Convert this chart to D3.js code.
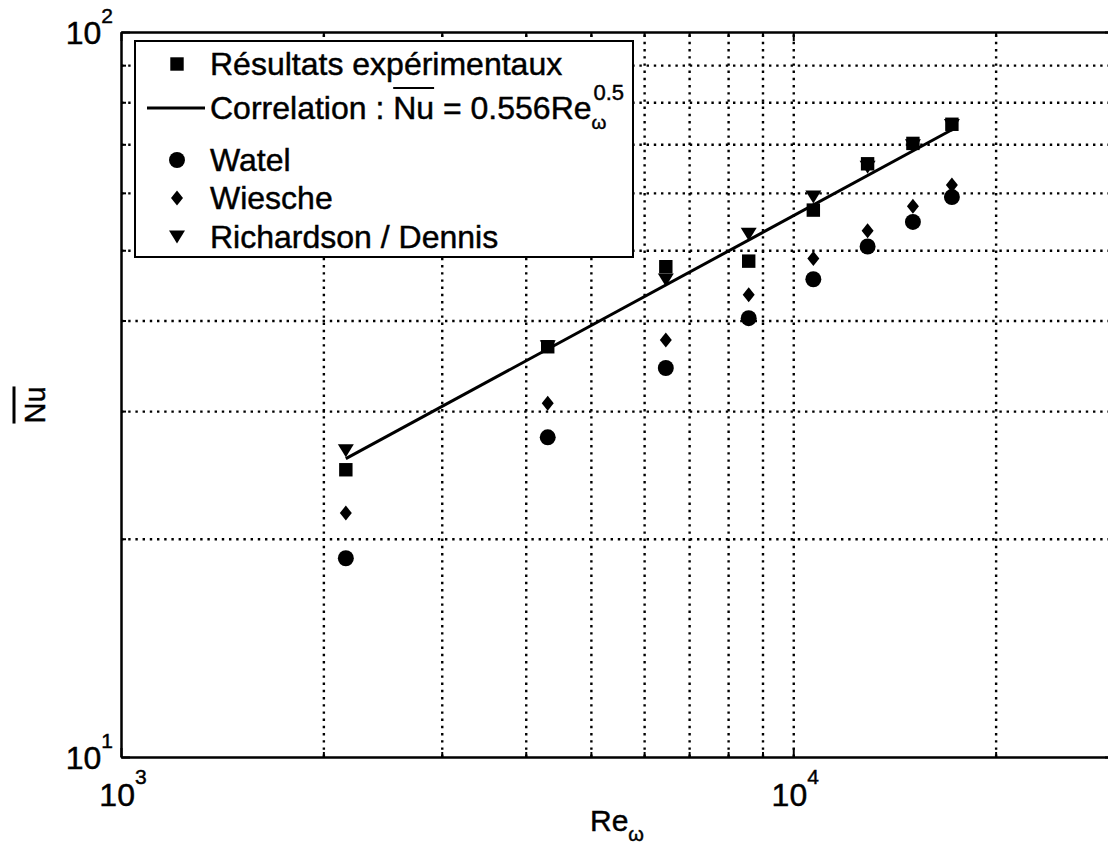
<!DOCTYPE html>
<html><head><meta charset="utf-8">
<script src="https://cdn.jsdelivr.net/npm/d3@7"></script>
<style>
body{margin:0;background:#fff}
svg{display:block}
text{font-family:"Liberation Sans",Arial,Helvetica,sans-serif;fill:#000;stroke:#000;stroke-width:0.45px}
</style>
</head><body>
<svg id="c" width="1108" height="845"></svg>
<script>
// ---- data ----
const reValues      = [2160, 4313, 6463, 8585, 10712, 12900, 15066, 17218];
const nuExperimental= [24.9, 36.8, 47.45, 48.3, 56.8, 65.8, 70.2, 74.6];
const nuWatel       = [18.8, 27.6, 34.4, 40.3, 45.6, 50.6, 54.7, 59.2];
const nuWiesche     = [21.7, 30.75, 37.6, 43.4, 48.7, 53.2, 57.5, 61.5];
const nuRichardson  = [26.45, 36.8, 45.5, 52.6, 59.2, 65.1, 69.7, 74.3];
const corrRe        = [2160, 17218];
const corrNu        = [25.8, 73.3];
const xMajorTicks   = [1000, 10000];
const xMajorExp     = ["3", "4"];
const xMinorTicks   = [2000,3000,4000,5000,6000,7000,8000,9000,20000];
const yMajorTicks   = [10, 100];
const yMajorExp     = ["1", "2"];
const yMinorTicks   = [20,30,40,50,60,70,80,90];
const legendLabels  = ["Résultats expérimentaux", "Correlation", "Watel", "Wiesche", "Richardson / Dennis"];

const svg = d3.select("#c");
const L = 121, R = 1114, T = 32, B = 757;
const x = d3.scaleLog().domain([1e3, 3e4]).range([L, R]);
const y = d3.scaleLog().domain([10, 100]).range([B, T]);

// ---- grid (dotted) ----
const gridX = svg.append("g").attr("transform", `translate(0,${B})`)
  .call(d3.axisBottom(x).tickValues(xMinorTicks.concat([10000])).tickSize(-(B - T)).tickFormat(""));
gridX.select(".domain").remove();
const gridY = svg.append("g").attr("transform", `translate(${L},0)`)
  .call(d3.axisLeft(y).tickValues(yMinorTicks).tickSize(-(R - L)).tickFormat(""));
gridY.select(".domain").remove();
svg.selectAll("g line").attr("stroke", "#000").attr("stroke-width", 2.4).attr("stroke-dasharray", "2.4 4.8");

// ---- axes frame & ticks ----
function styleAxis(g) {
  g.select(".domain").attr("stroke", "#000").attr("stroke-width", 2);
  g.selectAll(".tick line").attr("stroke", "#000").attr("stroke-width", 2);
  g.selectAll(".tick text").remove();
}
const mk = (axisFn, scale, vals, size, tr) => svg.append("g").attr("transform", tr)
  .call(axisFn(scale).tickValues(vals).tickSize(-size).tickSizeOuter(0).tickFormat(""))
  .call(styleAxis);
mk(d3.axisBottom, x, xMajorTicks, 9, `translate(0,${B})`);
mk(d3.axisBottom, x, xMinorTicks, 5, `translate(0,${B})`);
mk(d3.axisTop, x, xMajorTicks, 9, `translate(0,${T})`);
mk(d3.axisTop, x, xMinorTicks, 5, `translate(0,${T})`);
mk(d3.axisLeft, y, yMajorTicks, 9, `translate(${L},0)`);
mk(d3.axisLeft, y, yMinorTicks, 5, `translate(${L},0)`);
mk(d3.axisRight, y, yMajorTicks, 9, `translate(${R},0)`);

// ---- tick labels (10^n) ----
xMajorTicks.forEach((v, i) => {
  const t = svg.append("text").attr("x", x(v) + 2).attr("y", B + 49).attr("text-anchor", "middle");
  t.append("tspan").attr("font-size", 32).text("10");
  t.append("tspan").attr("font-size", 21).attr("dy", -22).text(xMajorExp[i]);
});
yMajorTicks.forEach((v, i) => {
  const t = svg.append("text").attr("x", L - 8).attr("y", y(v) + 12).attr("text-anchor", "end");
  t.append("tspan").attr("font-size", 32).text("10");
  t.append("tspan").attr("font-size", 21).attr("dy", -21).text(yMajorExp[i]);
});

// ---- axis titles ----
const xt = svg.append("text").attr("x", 590).attr("y", 831);
xt.append("tspan").attr("font-size", 30).text("Re");
xt.append("tspan").attr("font-size", 20).attr("dy", 10).text("ω");

const yt = svg.append("text").attr("transform", "translate(45,405) rotate(-90)")
  .attr("text-anchor", "middle").attr("font-size", 29).text("Nu");
const ytw = yt.node().getComputedTextLength();
svg.append("line").attr("x1", 14).attr("x2", 14)
  .attr("y1", 405 - ytw / 2).attr("y2", 405 + ytw / 2)
  .attr("stroke", "#000").attr("stroke-width", 3);

// ---- marker symbols ----
const sym = {
  square: d3.symbol().type(d3.symbolSquare).size(180),
  circle: d3.symbol().type(d3.symbolCircle).size(200),
  diamond: "M0,-7.5L6,0L0,7.5L-6,0Z",
  triangle: "M-8,-6.5L8,-6.5L0,6.5Z"
};
const pathOf = k => typeof sym[k] === "string" ? sym[k] : sym[k]();

function drawSeries(vals, kind) {
  svg.append("g").selectAll("path").data(vals).join("path")
    .attr("transform", (d, i) => `translate(${x(reValues[i])},${y(d)})`)
    .attr("d", pathOf(kind)).attr("fill", "#000");
}
drawSeries(nuExperimental, "square");
svg.append("path")
  .datum(corrRe.map((r, i) => [r, corrNu[i]]))
  .attr("d", d3.line().x(d => x(d[0])).y(d => y(d[1])))
  .attr("fill", "none").attr("stroke", "#000").attr("stroke-width", 3);
drawSeries(nuWatel, "circle");
drawSeries(nuWiesche, "diamond");
drawSeries(nuRichardson, "triangle");

// ---- legend ----
const lg = svg.append("g");
lg.append("rect").attr("x", 135).attr("y", 41).attr("width", 498).attr("height", 216)
  .attr("fill", "#fff").attr("stroke", "#000").attr("stroke-width", 2);
const rowsY = [64, 108, 160, 198, 237];
const kinds = ["square", null, "circle", "diamond", "triangle"];
rowsY.forEach((ry, i) => {
  if (kinds[i]) {
    lg.append("path").attr("transform", `translate(177,${ry})`).attr("d", pathOf(kinds[i])).attr("fill", "#000");
  } else {
    lg.append("line").attr("x1", 147).attr("x2", 205).attr("y1", ry).attr("y2", ry)
      .attr("stroke", "#000").attr("stroke-width", 3);
  }
  const t = lg.append("text").attr("x", 210).attr("y", ry + 11).attr("font-size", 32);
  if (i !== 1) {
    t.text(legendLabels[i]);
  } else {
    t.append("tspan").text(legendLabels[i] + " : ");
    t.append("tspan").text("Nu");
    t.append("tspan").text(" = 0.556Re");
    t.append("tspan").attr("font-size", 19).attr("dy", 10).text("ω");
    t.append("tspan").attr("font-size", 22).attr("dy", -29).attr("dx", -13).text("0.5");
    // overline above "Nu"
    const n = t.node();
    const full = n.textContent;
    const start = full.indexOf("Nu");
    const a = n.getStartPositionOfChar(start).x;
    const b = n.getEndPositionOfChar(start + 1).x;
    lg.append("line").attr("x1", a).attr("x2", b).attr("y1", ry - 20).attr("y2", ry - 20)
      .attr("stroke", "#000").attr("stroke-width", 2.2);
  }
});
</script>
</body></html>
